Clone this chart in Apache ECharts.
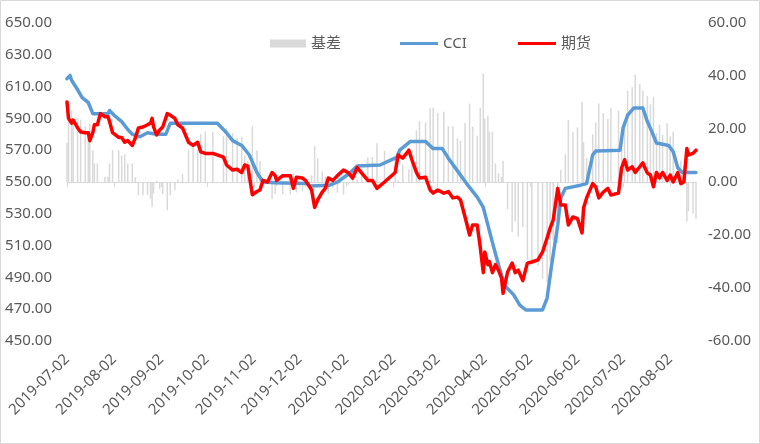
<!DOCTYPE html>
<html><head><meta charset="utf-8">
<script src="https://cdn.jsdelivr.net/npm/echarts@6/dist/echarts.min.js"></script>
<style>html,body{margin:0;padding:0;background:#fff}#c{width:760px;height:444px}</style>
</head><body><div id="c"></div><script>
// ---- data ----
const tickLabels = ['2019-07-02','2019-08-02','2019-09-02','2019-10-02','2019-11-02','2019-12-02','2020-01-02','2020-02-02','2020-03-02','2020-04-02','2020-05-02','2020-06-02','2020-07-02','2020-08-02'];
const firstDate = '2019-07-02';
const lastDate = '2020-08-19';

const cciDates = ['2019-07-02','2019-07-04','2019-07-05','2019-07-09','2019-07-12','2019-07-16','2019-07-19','2019-07-29','2019-07-30','2019-08-02','2019-08-07','2019-08-11','2019-08-14','2019-08-19','2019-08-24','2019-08-30','2019-09-05','2019-09-08','2019-10-09','2019-10-15','2019-10-19','2019-10-25','2019-10-30','2019-11-04','2019-11-08','2019-11-16','2019-12-07','2019-12-09','2019-12-22','2019-12-27','2020-01-04','2020-01-09','2020-01-24','2020-02-04','2020-02-06','2020-02-13','2020-02-23','2020-02-28','2020-03-05','2020-03-09','2020-03-15','2020-03-21','2020-03-28','2020-04-01','2020-04-04','2020-04-07','2020-04-11','2020-04-15','2020-04-21','2020-04-25','2020-04-29','2020-05-10','2020-05-13','2020-05-16','2020-05-20','2020-05-22','2020-05-25','2020-06-04','2020-06-08','2020-06-12','2020-06-14','2020-06-30','2020-07-02','2020-07-05','2020-07-09','2020-07-15','2020-07-18','2020-07-21','2020-07-24','2020-08-01','2020-08-04','2020-08-07','2020-08-10','2020-08-19'];
const cci = [615,617,614,608,603,600,593,593,595,592,588,583,580,578.5,581,580,580,587,587,581,576,573,567,556,550,549.5,549,547.5,548,550,555.5,560,560.7,565.5,570,575.5,575.5,571,571,565,557,549,540.5,534,523,512,498,485,479,472.6,469.5,469.5,477,498,523,540,546,548,549,567,569.5,570,584,592,596.5,596.5,588,581.5,574.5,573,569,559,556,556];

const futDates = ['2019-07-02','2019-07-03','2019-07-05','2019-07-06','2019-07-09','2019-07-11','2019-07-14','2019-07-16','2019-07-17','2019-07-19','2019-07-20','2019-07-22','2019-07-24','2019-07-27','2019-07-29','2019-07-30','2019-08-01','2019-08-05','2019-08-07','2019-08-09','2019-08-11','2019-08-14','2019-08-16','2019-08-18','2019-08-21','2019-08-24','2019-08-26','2019-08-27','2019-08-28','2019-08-30','2019-09-01','2019-09-03','2019-09-06','2019-09-08','2019-09-11','2019-09-13','2019-09-16','2019-09-20','2019-09-23','2019-09-26','2019-09-28','2019-10-01','2019-10-06','2019-10-13','2019-10-15','2019-10-19','2019-10-22','2019-10-25','2019-10-27','2019-10-29','2019-11-01','2019-11-04','2019-11-06','2019-11-08','2019-11-11','2019-11-14','2019-11-16','2019-11-17','2019-11-21','2019-11-26','2019-11-28','2019-11-30','2019-12-04','2019-12-06','2019-12-08','2019-12-10','2019-12-12','2019-12-14','2019-12-17','2019-12-19','2019-12-21','2019-12-24','2019-12-27','2019-12-31','2020-01-03','2020-01-06','2020-01-09','2020-01-12','2020-01-16','2020-01-19','2020-01-22','2020-01-27','2020-02-03','2020-02-05','2020-02-08','2020-02-12','2020-02-14','2020-02-17','2020-02-19','2020-02-23','2020-02-26','2020-02-28','2020-03-02','2020-03-06','2020-03-09','2020-03-12','2020-03-15','2020-03-17','2020-03-20','2020-03-23','2020-03-25','2020-03-28','2020-03-30','2020-04-01','2020-04-02','2020-04-04','2020-04-05','2020-04-07','2020-04-09','2020-04-11','2020-04-13','2020-04-14','2020-04-17','2020-04-20','2020-04-22','2020-04-24','2020-04-27','2020-04-30','2020-05-03','2020-05-07','2020-05-10','2020-05-13','2020-05-15','2020-05-17','2020-05-20','2020-05-22','2020-05-25','2020-05-27','2020-05-30','2020-06-02','2020-06-05','2020-06-06','2020-06-08','2020-06-12','2020-06-14','2020-06-16','2020-06-19','2020-06-22','2020-06-24','2020-06-29','2020-07-01','2020-07-03','2020-07-05','2020-07-08','2020-07-10','2020-07-13','2020-07-15','2020-07-18','2020-07-20','2020-07-22','2020-07-24','2020-07-26','2020-07-28','2020-07-31','2020-08-02','2020-08-04','2020-08-07','2020-08-09','2020-08-11','2020-08-13','2020-08-14','2020-08-17','2020-08-19'];
const fut = [600.3,590,587,589,584,581.5,581,581,576,581,586,586,593,591,591,588,581,578,578,575,576,573,577.7,584,584.6,586,587,590,584.6,579.6,582.7,584.6,593,592,590,586,584,575,573,575,569,568,568,565.7,560.7,557.5,558,556,560.7,560,542,544,545,551,550,556,554,551,554,554,546,553,552.5,551,548,545,534,538.7,543.7,546,552.5,551,554,557.5,556,552.5,559,555.6,551,551,546,550,556,567,565,570,564,556,552.5,553,545,543,545,543,544,540,540.5,538.7,528,516.7,523,523,509,493,506,498,500,493,498,494.6,489.6,480,493.4,499,493,494.6,488,499,499.7,501,506,514.8,521,526,546,535.5,535.5,523,528,527,518,533.6,540,549,547,540,543.7,546,541.8,543,558.8,564,557.5,559.6,556,559.6,562,555.6,554.4,547,556,552.5,556,551,554.4,550,556,549,550,571,567,568,570];

// basis (基差) values, on the same dates as futDates
const basis = [14.7,26,27,23.5,24,23.5,21,19,22,12,7,7,0,2,2,7,12,12,10,10.5,7,7,1.8,-5,-5,-5,-6.3,-9.5,-4.3,0.4,-2.7,-4.6,-10.7,-5,-3,1,3,12,14,12,18,19,19,17.3,20.3,18.5,16.5,17,10,8,21,12,8,-1,0,-6.4,-4.5,-1.5,-4.6,-4.7,3.2,-3.9,-3.5,-2,0,2.5,13.6,9,4,2,-4.5,-2.2,-4,-4.7,-1,4.8,1,4.5,9.3,9.5,14.6,11.8,9,0.7,6.6,4.7,11.5,19.5,23,22.5,27.8,28,26,26.5,21,21,16.5,15.6,22.3,29.6,20.9,17.5,28,41,24,25,19,19,7,3.4,1.9,8,-10.4,-19,-15,-20.6,-17,-29.5,-30.2,-31.5,-36.5,-37.8,-30,-22,-23,4.5,10.5,23.4,19,20.6,30.2,15,9,18,22.5,29.6,26,23.8,28,27,18.2,22.7,34.5,35.8,40.5,37,34.5,32.4,29.3,32.2,18.5,21.6,17.8,22.2,17.3,19,3,8,6,-15,-11,-12,-14];

// ---- build calendar category axis ----
function parseD(s){const p=s.split('-').map(Number);return Date.UTC(p[0],p[1]-1,p[2]);}
const cats=[];
for(let t=parseD(firstDate);t<=parseD(lastDate);t+=86400000){cats.push(new Date(t).toISOString().slice(0,10));}
const idx={}; cats.forEach((c,i)=>idx[c]=i);
const pair=(ds,vs)=>ds.map((d,i)=>[idx[d],vs[i]]);
const tickSet=new Set(tickLabels);
const isTick=(i)=>tickSet.has(cats[i]);

const FONT='"Noto Sans","Noto Sans CJK SC",sans-serif';
const chart=echarts.init(document.getElementById('c'),null,{renderer:'canvas'});
const legendText={color:'#595959',fontSize:15,fontFamily:FONT};
chart.setOption({
  animation:false,
  backgroundColor:'#fff',
  textStyle:{fontFamily:FONT},
  graphic:[{type:'rect',shape:{x:0.5,y:0.5,width:759,height:443},style:{fill:'none',stroke:'#d9d9d9',lineWidth:1},silent:true}],
  legend:[
    {data:['基差'],left:265,top:31,itemWidth:36,itemHeight:8,icon:'rect',textStyle:legendText},
    {data:['CCI'],left:395,top:31,itemWidth:38,itemHeight:3,icon:'rect',textStyle:legendText},
    {data:['期货'],left:513,top:31,itemWidth:38,itemHeight:3,icon:'rect',textStyle:legendText}
  ],
  grid:{left:67,right:64,top:23,bottom:103,containLabel:false},
  xAxis:{type:'category',data:cats,boundaryGap:false,
    axisLine:{lineStyle:{color:'#d9d9d9',width:1}},
    axisTick:{show:true,interval:isTick,length:5,lineStyle:{color:'#d9d9d9'}},
    axisLabel:{interval:isTick,rotate:45,color:'#595959',fontSize:15,fontFamily:FONT,margin:16},
    splitLine:{show:false}},
  yAxis:[
    {type:'value',min:450,max:650,interval:20,position:'left',
      axisLine:{show:false},axisTick:{show:false},splitLine:{show:false},
      axisLabel:{formatter:v=>v.toFixed(2),color:'#595959',fontSize:15,fontFamily:FONT,margin:15}},
    {type:'value',min:-60,max:60,interval:20,position:'right',
      axisLine:{show:false},axisTick:{show:false},splitLine:{show:false},
      axisLabel:{formatter:v=>v.toFixed(2),color:'#595959',fontSize:15,fontFamily:FONT,margin:12}}
  ],
  series:[
    {name:'基差',type:'bar',yAxisIndex:1,data:pair(futDates,basis),barWidth:1.5,itemStyle:{color:'#d9d9d9'}},
    {name:'CCI',type:'line',yAxisIndex:0,data:pair(cciDates,cci),symbol:'none',smooth:false,
      lineStyle:{color:'#5b9bd5',width:3.5,cap:'round',join:'round'},itemStyle:{color:'#5b9bd5'}},
    {name:'期货',type:'line',yAxisIndex:0,data:pair(futDates,fut),symbol:'none',smooth:false,
      lineStyle:{color:'#ff0000',width:3.5,cap:'round',join:'round'},itemStyle:{color:'#ff0000'}}
  ]
});
</script></body></html>
